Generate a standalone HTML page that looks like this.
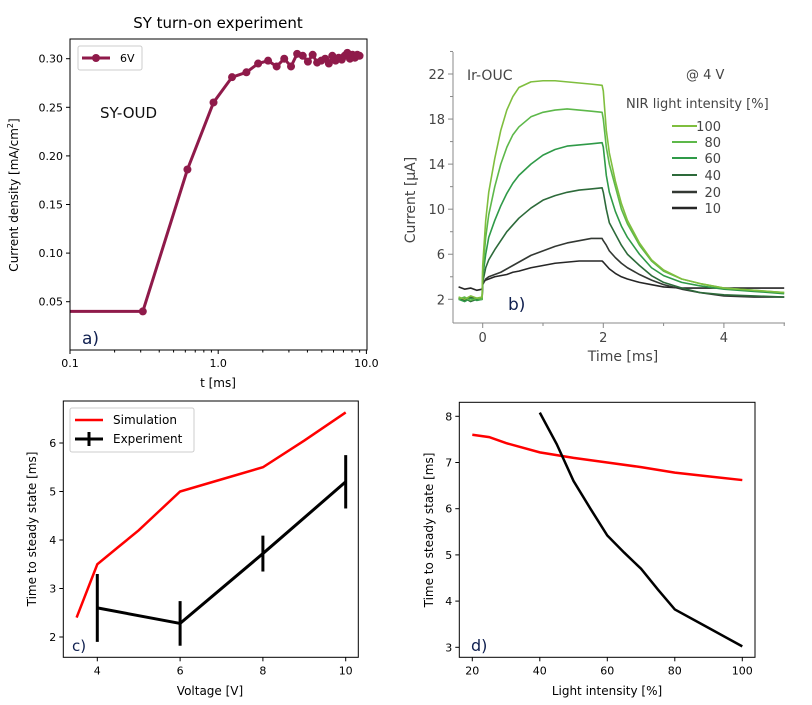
<!DOCTYPE html>
<html><head><meta charset="utf-8">
<style>
html,body{margin:0;padding:0;background:#fff;}
svg{display:block;}
text{font-family:"DejaVu Sans","Liberation Sans",sans-serif;}
</style></head>
<body>
<svg id="fig" width="812" height="705" viewBox="0 0 812 705" xmlns="http://www.w3.org/2000/svg"></svg>
<script>
// ---------- Panel a data ----------
const aTimes = [0.31,0.62,0.93,1.24,1.55,1.86,2.17,2.48,2.79,3.10,3.41,3.72,4.03,4.34,4.65,4.96,5.27,5.58,5.89,6.20,6.51,6.82,7.13,7.44,7.75,8.06,8.37,8.68,8.99];
const aValues = [0.040,0.186,0.255,0.281,0.286,0.295,0.298,0.292,0.300,0.292,0.305,0.303,0.297,0.304,0.296,0.298,0.300,0.295,0.303,0.298,0.301,0.299,0.303,0.306,0.300,0.304,0.301,0.304,0.303];
const aYTicks = [0.05,0.10,0.15,0.20,0.25,0.30];
const aXTicks = [0.1,1.0,10.0];
// ---------- Panel b data ----------
const bTimes = [-0.4,-0.3,-0.2,-0.1,-0.01,0,0.05,0.1,0.2,0.3,0.4,0.5,0.6,0.8,1.0,1.2,1.4,1.6,1.8,1.98,2.0,2.05,2.1,2.2,2.3,2.4,2.6,2.8,3.0,3.3,3.6,4.0,4.5,5.0];
const b100 = [2.2,2.0,2.3,2.1,2.2,5.0,9.0,11.5,14.5,17.0,18.8,20.0,20.8,21.3,21.4,21.4,21.3,21.2,21.1,21.0,20.5,17.0,15.0,12.5,10.5,9.0,7.0,5.5,4.6,3.8,3.4,3.0,2.8,2.6];
const b80 = [2.0,2.2,1.9,2.1,2.0,4.5,7.5,9.5,12.0,14.0,15.5,16.6,17.3,18.2,18.6,18.8,18.9,18.8,18.7,18.6,18.0,15.5,14.0,12.0,10.0,8.7,6.8,5.4,4.5,3.8,3.4,3.0,2.8,2.6];
const b60 = [2.0,1.8,2.1,1.9,2.0,4.0,6.0,7.5,9.0,10.3,11.4,12.3,13.0,14.0,14.8,15.3,15.6,15.7,15.8,15.9,15.5,13.0,11.5,9.8,8.5,7.5,6.0,4.8,4.1,3.5,3.2,2.9,2.7,2.5];
const b40 = [2.0,2.1,1.8,2.0,2.0,3.5,4.8,5.5,6.4,7.2,8.0,8.6,9.2,10.1,10.8,11.2,11.5,11.7,11.8,11.9,11.5,10.0,8.8,7.8,6.8,6.0,5.0,4.1,3.5,3.0,2.6,2.4,2.3,2.2];
const b20 = [2.1,1.9,2.2,2.0,2.1,3.3,3.8,4.0,4.2,4.4,4.7,5.0,5.3,5.9,6.3,6.7,7.0,7.2,7.4,7.4,7.2,6.8,6.3,5.7,5.2,4.8,4.2,3.7,3.3,2.9,2.6,2.3,2.2,2.2];
const b10 = [3.1,2.9,3.0,2.8,2.9,3.5,3.7,3.8,4.0,4.1,4.2,4.4,4.5,4.8,5.0,5.2,5.3,5.4,5.4,5.4,5.3,5.0,4.7,4.3,4.0,3.8,3.5,3.3,3.1,3.0,3.0,3.0,3.0,3.0];
const bLegendLabels = ["100","80","60","40","20","10"];
const bYTicks = [2,6,10,14,18,22];
const bXTicks = [0,2,4];
// ---------- Panel c data ----------
const cSimV = [3.5,4,4.5,5,5.5,6,7,8,9,10];
const cSimT = [2.4,3.5,3.85,4.2,4.6,5.0,5.25,5.5,6.05,6.63];
const cExpV = [4,6,8,10];
const cExpT = [2.6,2.28,3.72,5.2];
const cExpErr = [0.7,0.46,0.37,0.55];
const cXTicks = [4,6,8,10];
const cYTicks = [2,3,4,5,6];
// ---------- Panel d data ----------
const dSimI = [20,25,30,40,50,60,70,80,90,100];
const dSimT = [7.6,7.55,7.42,7.22,7.1,7.0,6.9,6.78,6.7,6.62];
const dExpI = [40,45,50,55,60,65,70,75,80,90,100];
const dExpT = [8.08,7.4,6.6,6.0,5.42,5.05,4.7,4.25,3.82,3.42,3.02];
const dXTicks = [20,40,60,80,100];
const dYTicks = [3,4,5,6,7,8];

const NS = "http://www.w3.org/2000/svg";
const fig = document.getElementById('fig');
function mk(tag, attrs, name, parent) {
  const el = document.createElementNS(NS, tag);
  for (const k in attrs) el.setAttribute(k, attrs[k]);
  
  
  (parent || fig).appendChild(el);
  return el;
}
function txt(x, y, s, name, attrs) {
  const el = mk('text', Object.assign({x: x, y: y}, attrs || {}), name);
  el.textContent = s;
  return el;
}
function lin(d0, d1, r0, r1) { return v => r0 + (v - d0) * (r1 - r0) / (d1 - d0); }
function poly(xs, ys, fx, fy) { return xs.map((v, i) => fx(v).toFixed(2) + ',' + fy(ys[i]).toFixed(2)).join(' '); }

// ===== Panel a =====
(function(){
  const L=70,R=367,T=39,B=350;
  const fx = v => 70 + (Math.log10(v) + 1) * 148.2;
  const fy = lin(0.30, 0.05, 58.7, 301.7);
  txt(218, 28, 'SY turn-on experiment', 'panel-a-title', {'text-anchor':'middle','font-size':'15'});
  const clip = mk('clipPath', {id:'clipA'}, 'panel-a-clip');
  mk('rect', {x:L, y:T, width:R-L, height:B-T}, 'panel-a-clip-rect', clip);
  const xs = [0.1].concat(aTimes), ys = [aValues[0]].concat(aValues);
  mk('polyline', {points: poly(xs, ys, fx, fy), fill:'none', stroke:'#8f1a4a', 'stroke-width':3, 'clip-path':'url(#clipA)', 'stroke-linejoin':'round'}, 'series-6v-line');
  aTimes.forEach((t, i) => {
    mk('circle', {cx: fx(t), cy: fy(aValues[i]), r: 4, fill:'#8f1a4a'}, 'series-6v-marker');
  });
  mk('rect', {x:L, y:T, width:R-L, height:B-T, fill:'none', stroke:'#000', 'stroke-width':1}, 'panel-a-frame');
  aYTicks.forEach(v => {
    mk('line', {x1:L-4, x2:L, y1:fy(v), y2:fy(v), stroke:'#000'}, 'panel-a-y-tick');
    txt(L-7, fy(v)+4, v.toFixed(2), 'panel-a-y-tick-label', {'text-anchor':'end','font-size':'11'});
  });
  aXTicks.forEach(v => {
    mk('line', {x1:fx(v), x2:fx(v), y1:B, y2:B+4, stroke:'#000'}, 'panel-a-x-tick');
    txt(fx(v), B+17, v.toFixed(1), 'panel-a-x-tick-label', {'text-anchor':'middle','font-size':'11'});
  });
  [0.2,0.3,0.4,0.5,0.6,0.7,0.8,0.9,2,3,4,5,6,7,8,9].forEach(v => {
    mk('line', {x1:fx(v), x2:fx(v), y1:B, y2:B+2.5, stroke:'#000'}, 'panel-a-x-minor-tick');
  });
  txt(218, 387, 't [ms]', 'panel-a-x-axis-title', {'text-anchor':'middle','font-size':'12'});
  const yl = mk('text', {x:0, y:0, transform:'translate(18,195) rotate(-90)', 'text-anchor':'middle', 'font-size':'12'}, 'panel-a-y-axis-title');
  yl.innerHTML = 'Current density [mA/cm<tspan dy="-5" font-size="8">2</tspan><tspan dy="5">]</tspan>';
  mk('rect', {x:78, y:46, width:64, height:24, rx:2, fill:'#fff', stroke:'#ccc'}, 'panel-a-legend-box');
  mk('line', {x1:82, x2:110, y1:58, y2:58, stroke:'#8f1a4a', 'stroke-width':3}, 'panel-a-legend-line');
  mk('circle', {cx:96, cy:58, r:4, fill:'#8f1a4a'}, 'panel-a-legend-marker');
  txt(120, 62, '6V', 'panel-a-legend-label', {'font-size':'11'});
  txt(100, 118, 'SY-OUD', 'panel-a-annotation', {'font-size':'15','font-family':'Liberation Sans, sans-serif','fill':'#111'});
  txt(82, 344, 'a)', 'panel-a-letter', {'font-size':'17','font-family':'Liberation Sans, sans-serif','fill':'#102050'});
})();

// ===== Panel b =====
(function(){
  const L=453,R=785,T=52,B=323;
  const fx = lin(0, 2, 482.7, 603.3);
  const fy = lin(22, 2, 74, 299.3);
  const series = [b10,b20,b40,b60,b80,b100];
  const cols = ['#262626','#333833','#2d6a3a','#2f9a48','#5db84a','#7fbe3e'];
  const names = ['10','20','40','60','80','100'];
  series.forEach((s, i) => {
    mk('polyline', {points: poly(bTimes, s, fx, fy), fill:'none', stroke:cols[i], 'stroke-width':1.6, 'stroke-linejoin':'round'}, 'series-' + names[i] + '-percent');
  });
  mk('line', {x1:L, x2:L, y1:T, y2:B, stroke:'#888'}, 'panel-b-y-axis');
  mk('line', {x1:L, x2:R, y1:B, y2:B, stroke:'#888'}, 'panel-b-x-axis');
  bYTicks.forEach(v => {
    mk('line', {x1:L-5, x2:L, y1:fy(v), y2:fy(v), stroke:'#888'}, 'panel-b-y-tick');
    mk('line', {x1:L-3, x2:L, y1:fy(v+2), y2:fy(v+2), stroke:'#888'}, 'panel-b-y-minor-tick');
    txt(L-8, fy(v)+5, String(v), 'panel-b-y-tick-label', {'text-anchor':'end','font-size':'13','fill':'#444','font-family':'Liberation Sans, sans-serif'});
  });
  bXTicks.forEach(v => {
    mk('line', {x1:fx(v), x2:fx(v), y1:B, y2:B+5, stroke:'#888'}, 'panel-b-x-tick');
    mk('line', {x1:fx(v+1), x2:fx(v+1), y1:B, y2:B+3, stroke:'#888'}, 'panel-b-x-minor-tick');
    txt(fx(v), B+19, String(v), 'panel-b-x-tick-label', {'text-anchor':'middle','font-size':'13','fill':'#444','font-family':'Liberation Sans, sans-serif'});
  });
  txt(623, 361, 'Time [ms]', 'panel-b-x-axis-title', {'text-anchor':'middle','font-size':'14','fill':'#444','font-family':'Liberation Sans, sans-serif'});
  txt(0, 0, 'Current [µA]', 'panel-b-y-axis-title', {transform:'translate(415,200) rotate(-90)','text-anchor':'middle','font-size':'14','fill':'#444','font-family':'Liberation Sans, sans-serif'});
  txt(467, 80, 'Ir-OUC', 'panel-b-annotation', {'font-size':'14','fill':'#444','font-family':'Liberation Sans, sans-serif'});
  txt(686, 79, '@ 4 V', 'panel-b-voltage-label', {'font-size':'13','fill':'#444','font-family':'Liberation Sans, sans-serif'});
  txt(626, 108, 'NIR light intensity [%]', 'panel-b-legend-title', {'font-size':'13','fill':'#444','font-family':'Liberation Sans, sans-serif'});
  const ly = [126,142,158,175,192,208];
  const lc = ['#7fbe3e','#5db84a','#2f9a48','#2d6a3a','#333833','#262626'];
  bLegendLabels.forEach((s, i) => {
    mk('line', {x1:672, x2:697, y1:ly[i], y2:ly[i], stroke:lc[i], 'stroke-width': i>3?2.5:2}, 'panel-b-legend-line');
    txt(721, ly[i]+5, s, 'panel-b-legend-label', {'text-anchor':'end','font-size':'13','fill':'#444','font-family':'Liberation Sans, sans-serif'});
  });
  txt(508, 310, 'b)', 'panel-b-letter', {'font-size':'17','font-family':'Liberation Serif, serif','fill':'#102050'});
})();

// ===== Panel c =====
(function(){
  const L=63.3,R=358.3,T=401,B=657.3;
  const fx = lin(4, 10, 97.3, 345.7);
  const fy = lin(6, 2, 443, 637);
  mk('polyline', {points: poly(cSimV, cSimT, fx, fy), fill:'none', stroke:'#ff0000', 'stroke-width':2.5}, 'simulation-line');
  mk('polyline', {points: poly(cExpV, cExpT, fx, fy), fill:'none', stroke:'#000', 'stroke-width':3}, 'experiment-line');
  cExpV.forEach((v, i) => {
    mk('line', {x1:fx(v), x2:fx(v), y1:fy(cExpT[i]-cExpErr[i]), y2:fy(cExpT[i]+cExpErr[i]), stroke:'#000', 'stroke-width':3}, 'experiment-error-bar');
  });
  mk('rect', {x:L, y:T, width:R-L, height:B-T, fill:'none', stroke:'#000'}, 'panel-c-frame');
  cXTicks.forEach(v => {
    mk('line', {x1:fx(v), x2:fx(v), y1:B, y2:B+4, stroke:'#000'}, 'panel-c-x-tick');
    txt(fx(v), B+17, String(v), 'panel-c-x-tick-label', {'text-anchor':'middle','font-size':'11'});
  });
  cYTicks.forEach(v => {
    mk('line', {x1:L-4, x2:L, y1:fy(v), y2:fy(v), stroke:'#000'}, 'panel-c-y-tick');
    txt(L-7, fy(v)+4, String(v), 'panel-c-y-tick-label', {'text-anchor':'end','font-size':'11'});
  });
  txt(210, 695, 'Voltage [V]', 'panel-c-x-axis-title', {'text-anchor':'middle','font-size':'12'});
  txt(0, 0, 'Time to steady state [ms]', 'panel-c-y-axis-title', {transform:'translate(36,529) rotate(-90)','text-anchor':'middle','font-size':'12'});
  mk('rect', {x:70, y:408, width:124, height:44, rx:2, fill:'#fff', stroke:'#ccc'}, 'panel-c-legend-box');
  mk('line', {x1:75, x2:103, y1:420, y2:420, stroke:'#ff0000', 'stroke-width':2.5}, 'legend-simulation-line');
  txt(113, 424, 'Simulation', 'legend-simulation-label', {'font-size':'12'});
  mk('line', {x1:75, x2:103, y1:439, y2:439, stroke:'#000', 'stroke-width':3}, 'legend-experiment-line');
  mk('line', {x1:89, x2:89, y1:432, y2:446, stroke:'#000', 'stroke-width':3}, 'legend-experiment-errorbar');
  txt(113, 443, 'Experiment', 'legend-experiment-label', {'font-size':'12'});
  txt(72, 651, 'c)', 'panel-c-letter', {'font-size':'15','font-family':'Liberation Sans, sans-serif','fill':'#102050'});
})();

// ===== Panel d =====
(function(){
  const L=459.3,R=755,T=402.3,B=657.3;
  const fx = lin(20, 100, 472.3, 742.3);
  const fy = lin(8, 3, 416.3, 647.3);
  mk('polyline', {points: poly(dSimI, dSimT, fx, fy), fill:'none', stroke:'#ff0000', 'stroke-width':2.5}, 'simulation-line-d');
  mk('polyline', {points: poly(dExpI, dExpT, fx, fy), fill:'none', stroke:'#000', 'stroke-width':2.5}, 'experiment-line-d');
  mk('rect', {x:L, y:T, width:R-L, height:B-T, fill:'none', stroke:'#000'}, 'panel-d-frame');
  dXTicks.forEach(v => {
    mk('line', {x1:fx(v), x2:fx(v), y1:B, y2:B+4, stroke:'#000'}, 'panel-d-x-tick');
    txt(fx(v), B+17, String(v), 'panel-d-x-tick-label', {'text-anchor':'middle','font-size':'11'});
  });
  dYTicks.forEach(v => {
    mk('line', {x1:L-4, x2:L, y1:fy(v), y2:fy(v), stroke:'#000'}, 'panel-d-y-tick');
    txt(L-7, fy(v)+4, String(v), 'panel-d-y-tick-label', {'text-anchor':'end','font-size':'11'});
  });
  txt(607, 695, 'Light intensity [%]', 'panel-d-x-axis-title', {'text-anchor':'middle','font-size':'12'});
  txt(0, 0, 'Time to steady state [ms]', 'panel-d-y-axis-title', {transform:'translate(433,530) rotate(-90)','text-anchor':'middle','font-size':'12'});
  txt(471, 651, 'd)', 'panel-d-letter', {'font-size':'16','font-family':'Liberation Serif, serif','fill':'#102050'});
})();
</script>
</body></html>
